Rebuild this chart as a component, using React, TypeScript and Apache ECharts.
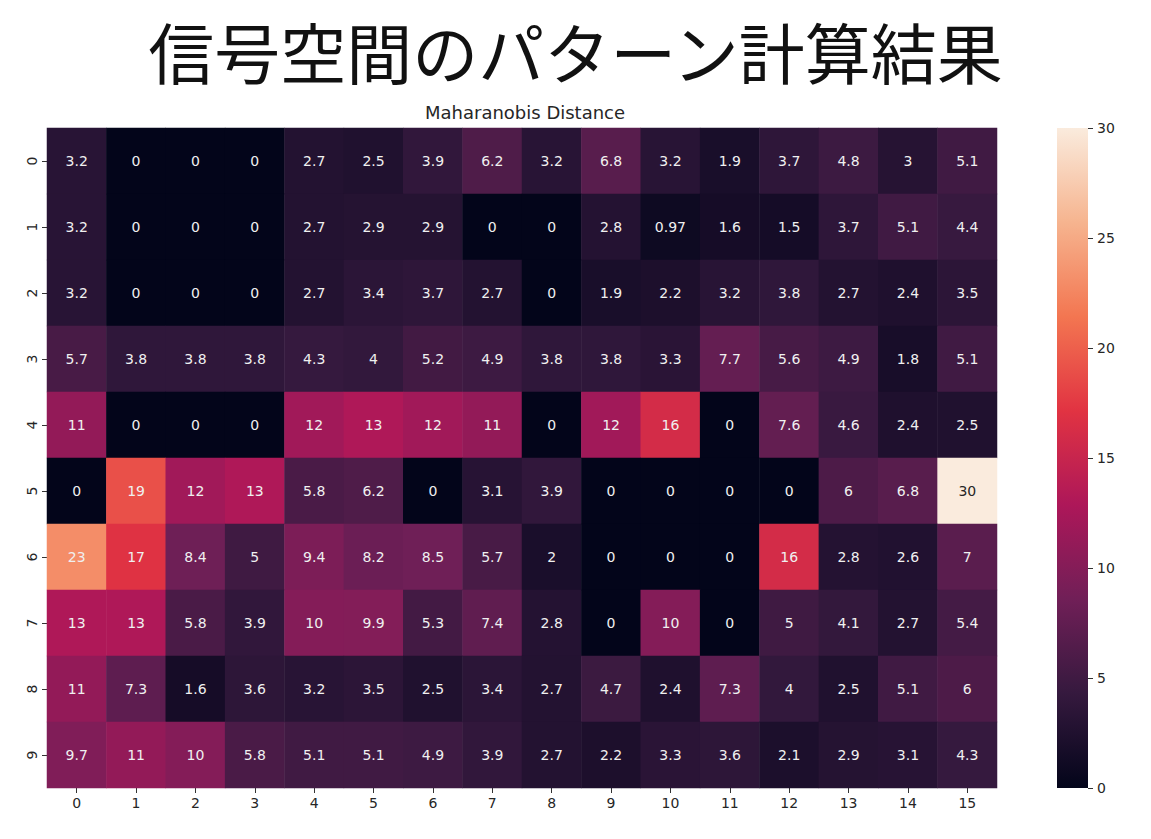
import React, { useEffect, useRef } from "react";
import * as echarts from "echarts";

const TITLE = "信号空間のパターン計算結果";
const SUBTITLE = "Maharanobis Distance";
const xLabels = ["0","1","2","3","4","5","6","7","8","9","10","11","12","13","14","15"];
const yLabels = ["0","1","2","3","4","5","6","7","8","9"];
const row0 = [3.2,0,0,0,2.7,2.5,3.9,6.2,3.2,6.8,3.2,1.9,3.7,4.8,3,5.1];
const row1 = [3.2,0,0,0,2.7,2.9,2.9,0,0,2.8,0.97,1.6,1.5,3.7,5.1,4.4];
const row2 = [3.2,0,0,0,2.7,3.4,3.7,2.7,0,1.9,2.2,3.2,3.8,2.7,2.4,3.5];
const row3 = [5.7,3.8,3.8,3.8,4.3,4,5.2,4.9,3.8,3.8,3.3,7.7,5.6,4.9,1.8,5.1];
const row4 = [11,0,0,0,12,13,12,11,0,12,16,0,7.6,4.6,2.4,2.5];
const row5 = [0,19,12,13,5.8,6.2,0,3.1,3.9,0,0,0,0,6,6.8,30];
const row6 = [23,17,8.4,5,9.4,8.2,8.5,5.7,2,0,0,0,16,2.8,2.6,7];
const row7 = [13,13,5.8,3.9,10,9.9,5.3,7.4,2.8,0,10,0,5,4.1,2.7,5.4];
const row8 = [11,7.3,1.6,3.6,3.2,3.5,2.5,3.4,2.7,4.7,2.4,7.3,4,2.5,5.1,6];
const row9 = [9.7,11,10,5.8,5.1,5.1,4.9,3.9,2.7,2.2,3.3,3.6,2.1,2.9,3.1,4.3];
const rows = [row0,row1,row2,row3,row4,row5,row6,row7,row8,row9];
const colorbarTicks = [0, 5, 10, 15, 20, 25, 30];
const VMIN = 0;
const VMAX = 30;

const ROCKET = ["#03051a","#35193e","#701f57","#ad1759","#e13342","#f37651","#f6b48f","#faebdd"];

export default function App() {
  const ref = useRef<HTMLDivElement>(null);
  useEffect(() => {
    document.body.style.margin = "0";
    if (!ref.current) return;
    const chart = echarts.init(ref.current, null, { renderer: "svg" });
    const data: any[] = [];
    rows.forEach((r, yi) => {
      r.forEach((v, xi) => {
        const light = v / VMAX > 0.85;
        data.push({
          value: [xi, yi, v],
          label: { color: light ? "#262626" : "#f0f0f0" },
        });
      });
    });
    const gradStops = ROCKET.map((c, i) => ({ offset: i / (ROCKET.length - 1), color: c }));
    const font = "'DejaVu Sans', sans-serif";
    chart.setOption({
      animation: false,
      backgroundColor: "#ffffff",
      title: [
        {
          text: TITLE,
          left: "center",
          top: 12,
          padding: 0,
          textStyle: { fontFamily: "'Noto Sans CJK JP'", fontSize: 66, lineHeight: 76, fontWeight: 400, color: "#111" },
        },
        {
          text: SUBTITLE,
          left: 420,
          top: 98,
          textStyle: { fontFamily: font, fontSize: 18, fontWeight: 400, color: "#262626" },
        },
      ],
      grid: [
        { left: 47, top: 128, width: 950, height: 660 },
        { left: 1057, top: 128, width: 31, height: 660 },
      ],
      xAxis: [
        {
          type: "category",
          gridIndex: 0,
          data: xLabels,
          axisLine: { show: false },
          axisTick: { show: true, alignWithLabel: true, length: 5, lineStyle: { color: "#333" } },
          axisLabel: { fontFamily: font, fontSize: 14, color: "#262626", margin: 8 },
          splitLine: { show: false },
        },
        {
          type: "category",
          gridIndex: 1,
          data: ["c"],
          show: false,
        },
      ],
      yAxis: [
        {
          type: "category",
          gridIndex: 0,
          data: yLabels,
          inverse: true,
          axisLine: { show: false },
          axisTick: { show: true, alignWithLabel: true, length: 5, lineStyle: { color: "#333" } },
          axisLabel: { fontFamily: font, fontSize: 14, color: "#262626", rotate: 90, margin: 8 },
          splitLine: { show: false },
        },
        {
          type: "value",
          gridIndex: 1,
          position: "right",
          min: VMIN,
          max: VMAX,
          interval: 5,
          axisLine: { show: false },
          axisTick: { show: true, length: 5, lineStyle: { color: "#333" } },
          axisLabel: {
            fontFamily: font,
            fontSize: 14,
            color: "#262626",
            margin: 9,
            customValues: colorbarTicks,
          },
          splitLine: { show: false },
        },
      ],
      visualMap: {
        show: false,
        min: VMIN,
        max: VMAX,
        seriesIndex: 0,
        inRange: { color: ROCKET },
      },
      series: [
        {
          type: "heatmap",
          xAxisIndex: 0,
          yAxisIndex: 0,
          data,
          label: {
            show: true,
            fontFamily: font,
            fontSize: 14,
            formatter: (p: any) => String(p.value[2]),
          },
          itemStyle: { borderWidth: 0 },
          emphasis: { disabled: true },
        },
        {
          type: "bar",
          xAxisIndex: 1,
          yAxisIndex: 1,
          data: [VMAX],
          barWidth: "100%",
          silent: true,
          itemStyle: {
            color: new echarts.graphic.LinearGradient(0, 1, 0, 0, gradStops),
          },
        },
      ],
    });
    return () => chart.dispose();
  }, []);
  return <div ref={ref} style={{ width: 1151, height: 839 }} />;
}
